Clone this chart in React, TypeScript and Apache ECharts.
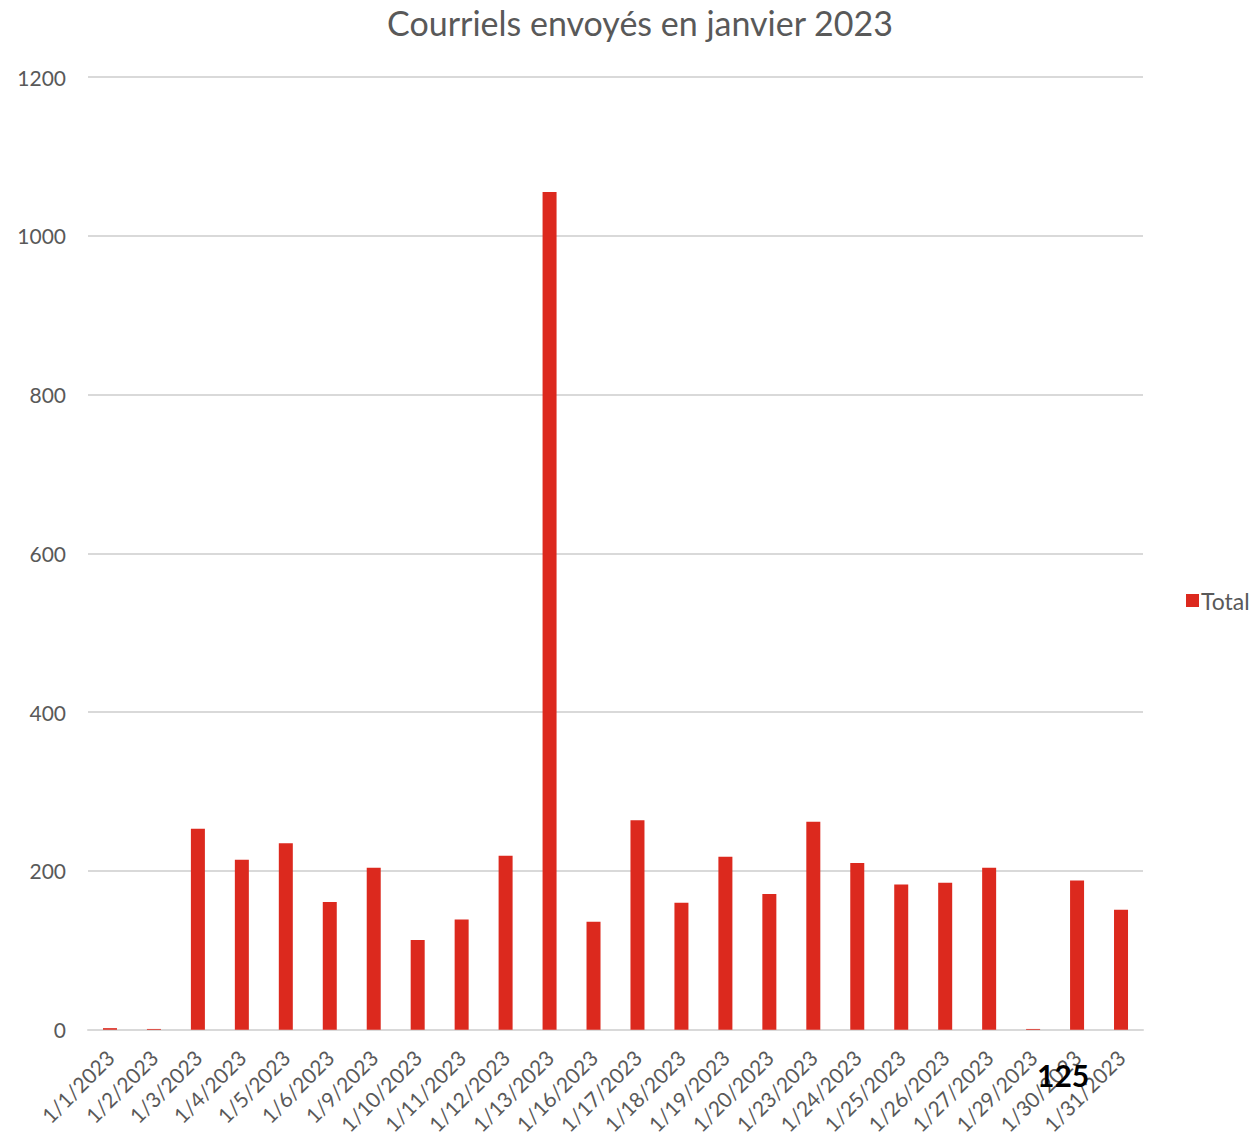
import React, { useEffect, useRef } from "react";
import * as echarts from "echarts";

const categories = [
  "1/1/2023", "1/2/2023", "1/3/2023", "1/4/2023", "1/5/2023", "1/6/2023",
  "1/9/2023", "1/10/2023", "1/11/2023", "1/12/2023", "1/13/2023", "1/16/2023",
  "1/17/2023", "1/18/2023", "1/19/2023", "1/20/2023", "1/23/2023", "1/24/2023",
  "1/25/2023", "1/26/2023", "1/27/2023", "1/29/2023", "1/30/2023", "1/31/2023",
];
const totals = [
  2, 1, 253, 214, 235, 161, 204, 113, 139, 219, 1055, 136,
  264, 160, 218, 171, 262, 210, 183, 185, 204, 1, 188, 151,
];
const yTicks = [0, 200, 400, 600, 800, 1000, 1200];
const titleText = "Courriels envoyés en janvier 2023";
const seriesName = "Total";
const strayLabel = "125";

const FONT = "Lato";
const TEXT = "#595959";

export default function App() {
  const ref = useRef<HTMLDivElement>(null);
  useEffect(() => {
    if (!ref.current) return;
    const chart = echarts.init(ref.current, null, { renderer: "svg" });
    chart.setOption({
      animation: false,
      backgroundColor: "#ffffff",
      title: {
        text: titleText,
        left: 635,
        textAlign: "center",
        top: 0,
        textStyle: { fontFamily: FONT, fontSize: 34, fontWeight: "normal", color: TEXT },
      },
      legend: {
        data: [seriesName],
        left: 1181,
        top: 584,
        orient: "vertical",
        icon: "rect",
        itemWidth: 13,
        itemHeight: 13,
        itemGap: 4,
        textStyle: { fontFamily: FONT, fontSize: 23, color: TEXT, padding: [0, 0, 0, -3] },
      },
      grid: { left: 88, right: 111, top: 77, bottom: 107, containLabel: false },
      xAxis: {
        type: "category",
        data: categories,
        axisLine: { lineStyle: { color: "#d9d9d9", width: 2 } },
        axisTick: { show: false },
        axisLabel: {
          interval: 0,
          rotate: 45,
          fontFamily: FONT,
          fontSize: 21,
          color: TEXT,
          margin: 24,
        },
      },
      yAxis: {
        type: "value",
        min: yTicks[0],
        max: yTicks[yTicks.length - 1],
        interval: 200,
        axisLine: { show: false },
        axisTick: { show: false },
        splitLine: { lineStyle: { color: "#d9d9d9", width: 2 } },
        axisLabel: {
          fontFamily: FONT,
          fontSize: 21,
          color: TEXT,
          margin: 22,
          formatter: (v: number) => String(v),
        },
      },
      series: [
        {
          name: seriesName,
          type: "bar",
          data: totals,
          barWidth: 14,
          itemStyle: { color: "#dc291e" },
        },
      ],
      graphic: [
        {
          type: "text",
          left: 1037,
          top: 1060,
          z: 100,
          style: {
            text: strayLabel,
            fontFamily: FONT,
            fontSize: 30,
            fontWeight: "bold",
            fill: "#000000",
          },
        },
      ],
    });
    return () => chart.dispose();
  }, []);
  return (
    <div
      ref={ref}
      style={{ position: "absolute", left: 0, top: 0, width: 1254, height: 1137 }}
    />
  );
}
